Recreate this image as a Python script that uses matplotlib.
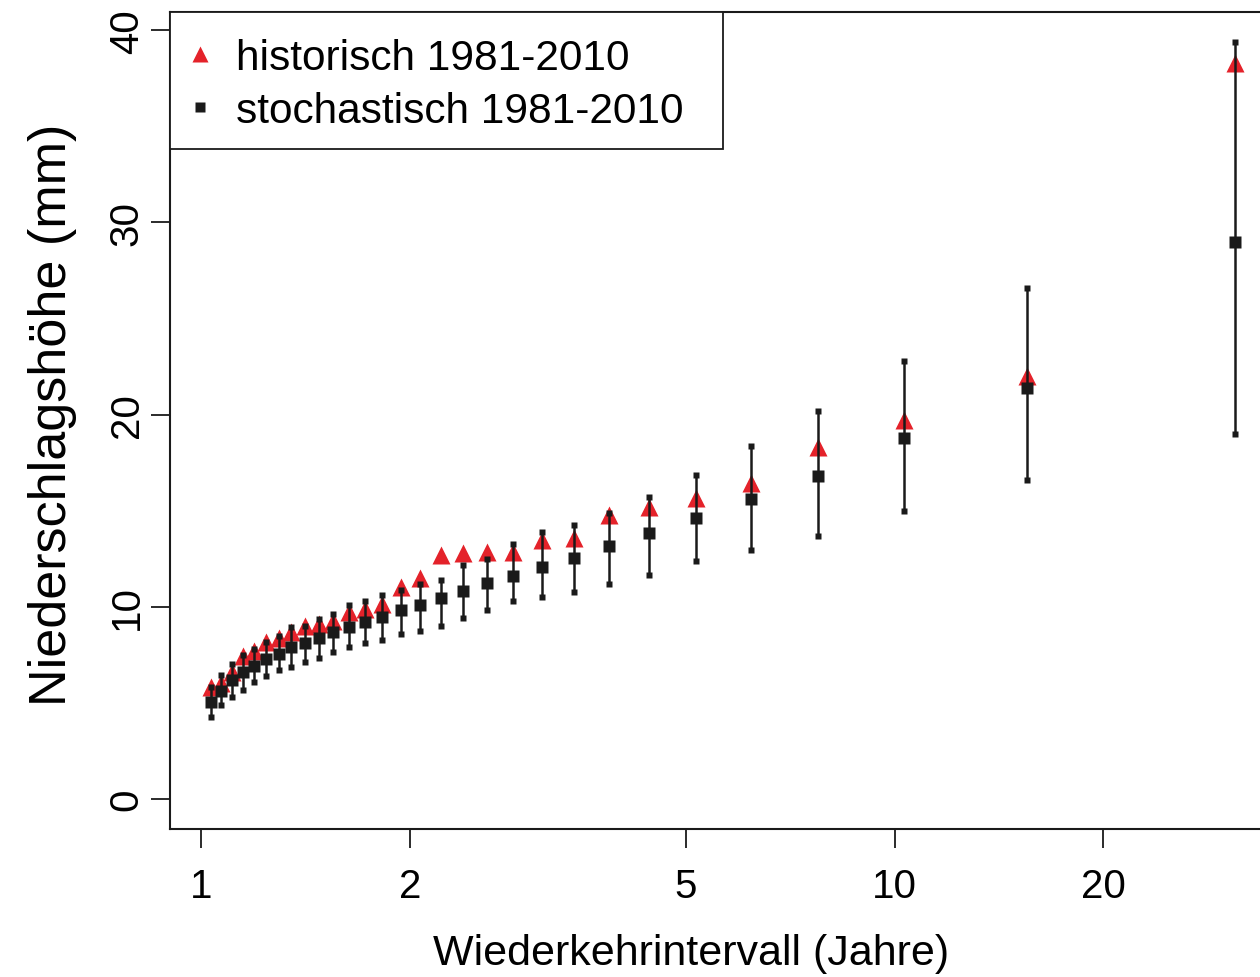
import matplotlib
matplotlib.use('Agg')
import matplotlib.pyplot as plt
from matplotlib.lines import Line2D
from matplotlib.patches import Rectangle

plt.rcParams['font.family'] = ['Liberation Sans', 'DejaVu Sans']

# Wiederkehrintervall (Jahre), Rang 1..30
jahre = [31.0, 15.5, 10.333, 7.75, 6.2, 5.167, 4.429, 3.875, 3.444, 3.1,
         2.818, 2.583, 2.385, 2.214, 2.067, 1.938, 1.824, 1.722, 1.632, 1.55,
         1.476, 1.409, 1.348, 1.292, 1.24, 1.192, 1.148, 1.107, 1.069, 1.033]

historisch = [38.3, 22.0, 19.7, 18.3, 16.45, 15.67, 15.18, 14.78, 13.57, 13.5,
              12.84, 12.84, 12.8, 12.7, 11.49, 11.02, 10.15, 9.89, 9.72, 9.28,
              9.11, 9.02, 8.68, 8.38, 8.16, 7.72, 7.46, 6.6, 6.04, 5.81]

stoch_mittel = [29.0, 21.4, 18.78, 16.83, 15.62, 14.64, 13.85, 13.15, 12.53, 12.06,
                11.63, 11.24, 10.84, 10.45, 10.1, 9.86, 9.49, 9.23, 8.94, 8.68,
                8.38, 8.12, 7.89, 7.55, 7.29, 6.94, 6.6, 6.19, 5.64, 5.07]

stoch_oben = [39.4, 26.6, 22.8, 20.2, 18.39, 16.88, 15.69, 14.89, 14.28, 13.88,
              13.27, 12.49, 12.2, 11.4, 11.19, 10.88, 10.62, 10.32, 10.1, 9.63,
              9.37, 9.02, 8.97, 8.47, 8.19, 7.81, 7.5, 7.03, 6.45, 5.81]

stoch_unten = [19.0, 16.61, 14.99, 13.69, 12.98, 12.39, 11.68, 11.19, 10.79, 10.5,
               10.29, 9.84, 9.44, 9.02, 8.76, 8.59, 8.29, 8.12, 7.89, 7.63,
               7.32, 7.11, 6.89, 6.73, 6.42, 6.07, 5.67, 5.33, 4.91, 4.29]

rot = '#e4222a'
schwarz = '#1a1a1a'

fig = plt.figure(figsize=(12.6, 9.78), dpi=100)
ax = fig.add_axes([170 / 1260, 1 - 830 / 978, 1106 / 1260, 817 / 978])

ax.plot(jahre, historisch, linestyle='none', marker='^', ms=12.5,
        color=rot, mec='none', zorder=2)
ax.vlines(jahre, stoch_unten, stoch_oben, color=schwarz, lw=1.8, zorder=3)
ax.plot(jahre, stoch_oben, linestyle='none', marker='s', ms=5,
        color=schwarz, mec='none', zorder=4)
ax.plot(jahre, stoch_unten, linestyle='none', marker='s', ms=5,
        color=schwarz, mec='none', zorder=4)
ax.plot(jahre, stoch_mittel, linestyle='none', marker='s', ms=8,
        color=schwarz, mec='none', zorder=4)

ax.set_xscale('log')
ax.set_xlim(0.901, 35.5)
ax.set_ylim(-1.56, 40.95)
ax.set_xticks([1, 2, 5, 10, 20])
ax.set_xticklabels(['1', '2', '5', '10', '20'])
ax.minorticks_off()
ax.set_yticks([0, 10, 20, 30, 40])
ax.set_yticklabels(['0', '10', '20', '30', '40'], rotation=90, va='center')

for s in ax.spines.values():
    s.set_linewidth(1.5)
    s.set_color(schwarz)
ax.tick_params(axis='both', length=13.5, width=1.3, labelsize=29, color=schwarz)
ax.tick_params(axis='x', pad=14)
ax.tick_params(axis='y', pad=4)

ax.set_xlabel('Wiederkehrintervall (Jahre)', fontsize=31, labelpad=20)
ax.xaxis.label.set_x(0.471)
ax.set_ylabel('Niederschlagshöhe (mm)', fontsize=37.5, labelpad=22)
ax.yaxis.label.set_y(0.508)

# Legende (Rahmen separat wie in R)
handles = [
    Line2D([], [], linestyle='none', marker='^', ms=11, color=rot, mec='none'),
    Line2D([], [], linestyle='none', marker='s', ms=7.5, color=schwarz, mec='none'),
]
ax.legend(handles, ['historisch 1981-2010', 'stochastisch 1981-2010'],
          loc='upper left', bbox_to_anchor=(0.0136, 0.968), borderaxespad=0,
          fontsize=30.5, frameon=False, handlelength=0.7, handletextpad=0.5,
          labelspacing=0.31, borderpad=0)
ax.add_patch(Rectangle((0, (830 - 150) / 817), (723 - 170) / 1106, 1 - (830 - 150) / 817,
                       transform=ax.transAxes, facecolor='white', edgecolor=schwarz,
                       lw=1.3, zorder=5, clip_on=False))
ax.get_legend().set_zorder(6)

fig.savefig('out.png', dpi=100)
